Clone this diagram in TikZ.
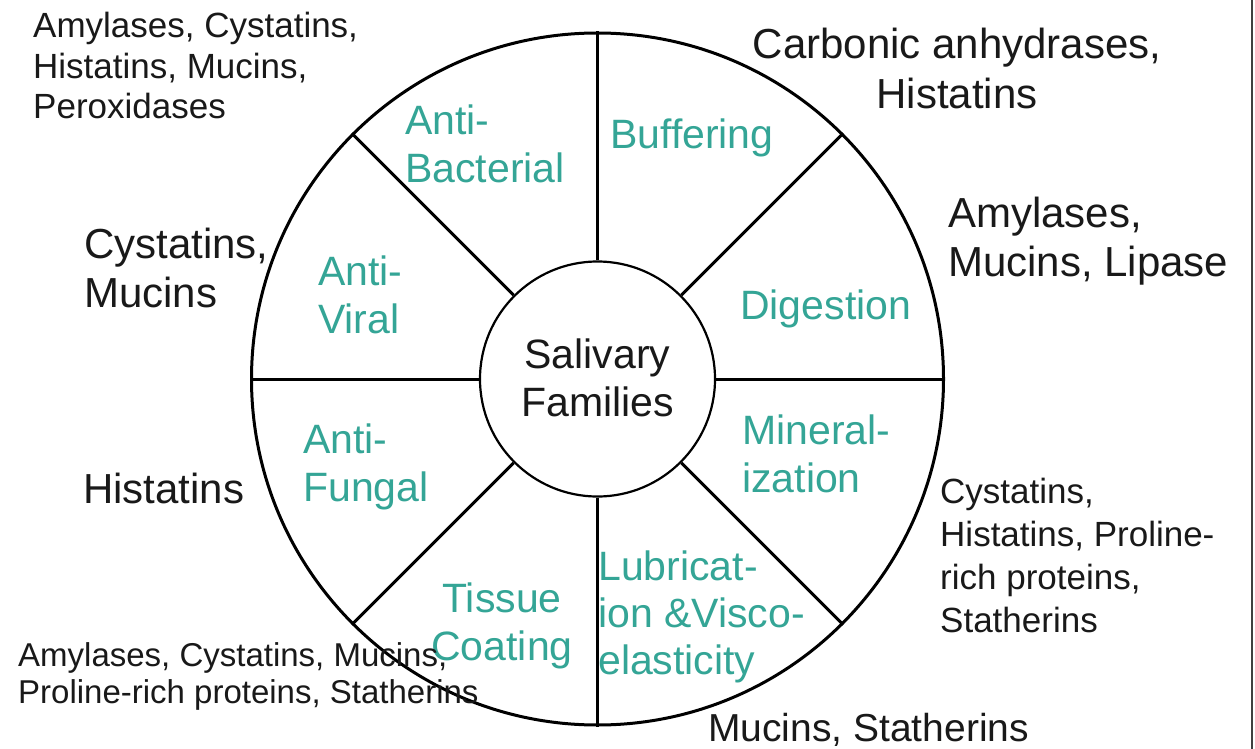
\documentclass[tikz,border=0pt]{standalone}
\usepackage{fontspec}
\setmainfont{Liberation Sans}
\definecolor{functeal}{RGB}{52,165,150}
\definecolor{ink}{RGB}{25,25,25}
\tikzset{
  lbl/.style={inner sep=0pt, anchor=north west, align=left, text=ink},
  bigtxt/.style={lbl, font=\fontsize{42}{49}\selectfont},
  smalltxt/.style={lbl, font=\fontsize{35}{41}\selectfont},
  functxt/.style={inner sep=0pt, anchor=north west, align=left, text=functeal, font=\fontsize{41}{48}\selectfont},
  ring/.style={circle, draw=black, line width=3pt, inner sep=0pt},
  spoke/.style={draw=black, line width=3pt}
}
\begin{document}
\begin{tikzpicture}[x=1pt,y=-1pt]
\useasboundingbox (0,0) rectangle (1255,749);
\fill[white] (0,0) rectangle (1255,749);
% outer and inner circles
\node[ring, minimum size=692pt] (outer) at (597.5,379) {};
\node[ring, line width=2.2pt, minimum size=235pt, fill=white, font=\fontsize{41}{48}\selectfont, align=center, text=ink] (inner) at (597.5,379) {};
% spokes
\foreach \a in {0,45,90,135,180,225,270,315}
  \draw[spoke] (inner.\a) -- (outer.\a);
\node[inner sep=0pt, anchor=north, align=center, text=ink, font=\fontsize{41}{48}\selectfont] (center) at (597.5,339) {Salivary\\Families};
% function labels
\node[functxt] (antibac) at (405,105) {Anti-\\Bacterial};
\node[functxt] (buff) at (610,119) {Buffering};
\node[functxt] (antivir) at (318,256) {Anti-\\Viral};
\node[functxt] (dig) at (740,290) {Digestion};
\node[functxt] (miner) at (742,415) {Mineral-\\ization};
\node[functxt] (antifun) at (303,424) {Anti-\\Fungal};
\node[functxt, anchor=north, align=center] (tissue) at (502,583) {Tissue\\Coating};
\node[functxt, font=\fontsize{41}{47}\selectfont] (lubric) at (598,551) {Lubricat-\\ion \&Visco-\\elasticity};
% family labels
\node[smalltxt, font=\fontsize{35}{40.5}\selectfont] (fam1) at (33,12) {Amylases, Cystatins,\\Histatins, Mucins,\\Peroxidases};
\node[bigtxt, anchor=north, align=center, font=\fontsize{42}{50}\selectfont] (fam2) at (957,28) {Carbonic anhydrases,\\Histatins};
\node[bigtxt] (fam3) at (948,197) {Amylases,\\Mucins, Lipase};
\node[bigtxt] (fam4) at (84,228) {Cystatins,\\Mucins};
\node[bigtxt] (fam5) at (83,473) {Histatins};
\node[smalltxt, font=\fontsize{35}{43}\selectfont] (fam6) at (940,478) {Cystatins,\\Histatins, Proline-\\rich proteins,\\Statherins};
\node[smalltxt, font=\fontsize{33}{37}\selectfont] (fam7) at (18,642) {Amylases, Cystatins, Mucins,\\Proline-rich proteins, Statherins};
\node[bigtxt, font=\fontsize{39}{45}\selectfont] (fam8) at (708,713) {Mucins, Statherins};
% right frame edge
\draw[line width=2pt, draw=black!75] (1252,0) -- (1252,749);
\end{tikzpicture}
\end{document}
